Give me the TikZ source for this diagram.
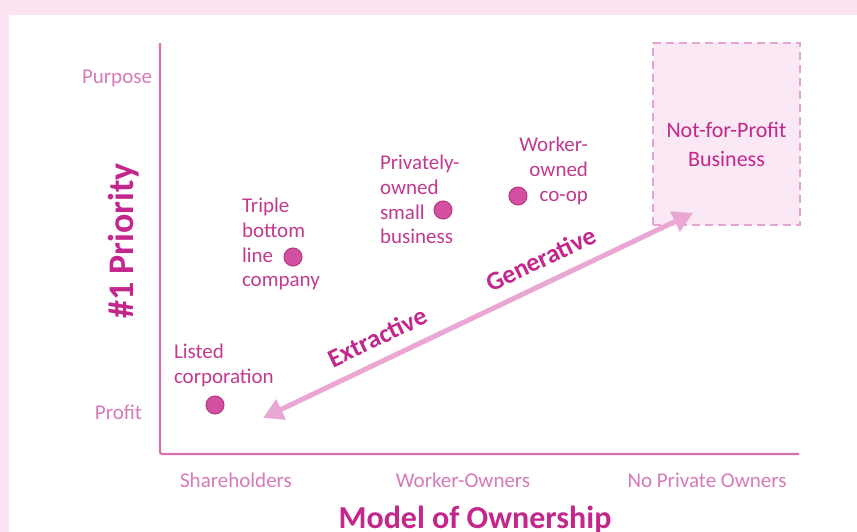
\documentclass[tikz,border=0pt]{standalone}
\usepackage{fontspec}
\setmainfont{Carlito}
\usetikzlibrary{arrows.meta, positioning}
\definecolor{fondorosa}{HTML}{FCE4F2}
\definecolor{ejerosa}{HTML}{D670B0}
\definecolor{etiqrosa}{HTML}{D77AB7}
\definecolor{textomag}{HTML}{C23A8F}
\definecolor{titulomag}{HTML}{C4278C}
\definecolor{puntomag}{HTML}{D2509F}
\definecolor{bordemag}{HTML}{B53884}
\definecolor{flecharosa}{HTML}{EAA7D3}
\definecolor{cajarosa}{HTML}{FAE8F4}
\definecolor{trazorosa}{HTML}{E5A4CF}

\begin{document}
\begin{tikzpicture}[x=0.75pt, y=-0.75pt,
    every node/.style={inner sep=0pt, outer sep=0pt},
    item/.style={font=\fontsize{15.75}{18.6}\selectfont, text=textomag, align=left},
    eje/.style={font=\fontsize{15.75}{18}\selectfont, text=etiqrosa},
    titulo/.style={font=\bfseries, text=titulomag},
    flujo/.style={font=\fontsize{19.5}{22}\selectfont\bfseries, text=titulomag},
    punto/.style={circle, minimum size=13.5pt, fill=puntomag, draw=bordemag, line width=0.75pt}]
  % Fondo
  \fill[fondorosa] (0,0) rectangle (857,532);
  \fill[white] (9,15) rectangle (857,532);
  \useasboundingbox (0,0) rectangle (857,532);

  % Caja sin fines de lucro
  \node[draw=trazorosa, fill=cajarosa, dash pattern=on 6pt off 3.75pt, line width=1.5pt,
        minimum width=110.25pt, minimum height=136.5pt] (nfp) at (726.5,133.5) {};
  \node[font=\fontsize{16.5}{21.75}\selectfont, text=titulomag, align=center,
        below=60pt of nfp.north] (nfplabel) {Not-for-Profit\\Business};

  % Ejes
  \coordinate (yfin) at (160,43);
  \coordinate (origen) at (160,454);
  \coordinate (xfin) at (799,454);
  \draw[ejerosa, line width=1.6pt, rounded corners=1.5pt] (yfin) -- (origen) -- (xfin);
  \node[eje, anchor=base east] (proposito) at (152,83) {Purpose};
  \node[eje, anchor=base east] (beneficio) at (142,419) {Profit};
  \node[eje, anchor=base] (accionistas) at (236,487) {Shareholders};
  \node[eje, anchor=base] (trabajadores) at (463,487) {Worker-Owners};
  \node[eje, anchor=base] (sinduenos) at (707,487) {No Private Owners};
  \node[titulo, font=\fontsize{27}{32}\selectfont\bfseries, rotate=90, anchor=base] (prioridad) at (133,241) {\#1 Priority};
  \node[titulo, font=\fontsize{24}{28}\selectfont\bfseries, anchor=base] (modelo) at (475,528) {Model of Ownership};

  % Flecha extractiva / generativa
  \coordinate (extr) at (263,418);
  \coordinate (gen) at (693,213);
  \draw[flecharosa, line width=3.75pt, {Triangle[length=15pt,width=16pt]}-{Triangle[length=15pt,width=16pt]}]
    (extr) -- node[flujo, pos=0.29, sloped, above=11pt] (extractiva) {Extractive}
              node[flujo, pos=0.67, sloped, above=11pt] (generativa) {Generative} (gen);

  % Puntos
  \foreach \nombre/\px/\py in {cotizada/215/405, triple/293/257, privada/443/210, coop/518/196}
    \node[punto] (p-\nombre) at (\px,\py) {};
  \node[item, anchor=north west] (cotizada) at (174,344) {Listed\\corporation};
  \node[item, anchor=north west] (triple) at (242,198) {Triple\\bottom\\line\\company};
  \node[item, anchor=north west] (privada) at (380,155) {Privately-\\owned\\small\\business};
  \node[item, anchor=north east, align=right] (coop) at (588,137) {Worker-\\owned\\co-op};
\end{tikzpicture}
\end{document}
